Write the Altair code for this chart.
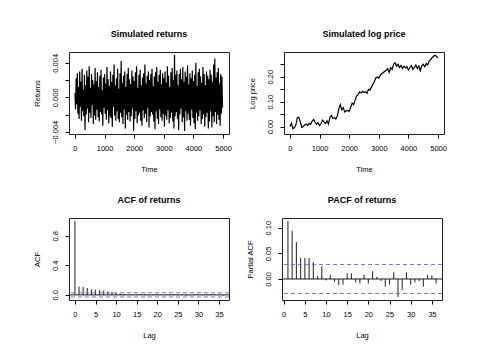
import altair as alt
import pandas as pd

FONT = "Liberation Sans"

# ---------------- data ----------------
# Simulated returns (units of 1e-4), one value every 20 time steps
ret_time = list(range(1, 5001, 20))
ret_e4 = [
    5, -14, 22, -8, 28, -19, 12, -25, 30, -11,
    18, -27, 33, -16, 9, -22, 26, -38, 14, -20,
    31, -13, 24, -29, 36, -18, 11, -24, 27, -9,
    20, -31, 15, -21, 34, -26, 19, -14, 29, -23,
    12, -28, 25, -17, 32, -20, 8, -33, 23, -12,
    27, -19, 16, -26, 35, -15, 21, -30, 13, -22,
    30, -24, 18, -34, 26, -11, 38, -21, 14, -27,
    22, -16, 33, -25, 10, -29, 28, -18, 42, -23,
    17, -31, 25, -14, 30, -36, 12, -20, 27, -26,
    34, -17, 21, -28, 15, -22, 31, -13, 24, -39,
    19, -25, 29, -16, 36, -30, 11, -21, 26, -18,
    32, -27, 14, -33, 23, -15, 28, -24, 38, -19,
    16, -29, 25, -12, 30, -35, 20, -22, 27, -17,
    33, -20, 13, -28, 24, -37, 29, -16, 35, -25,
    18, -31, 26, -14, 32, -23, 15, -27, 28, -19,
    22, -34, 30, -21, 17, -26, 36, -15, 25, -30,
    12, -24, 29, -18, 34, -28, 20, -36, 49, -22,
    26, -17, 31, -25, 14, -38, 27, -20, 33, -13,
    21, -29, 35, -23, 18, -39, 30, -16, 24, -27,
    37, -19, 15, -26, 28, -33, 22, -14, 31, -24,
    19, -30, 26, -37, 40, -18, 13, -27, 29, -22,
    33, -15, 24, -31, 17, -25, 35, -20, 27, -34,
    14, -23, 30, -18, 25, -36, 21, -28, 32, -16,
    26, -35, 18, -22, 38, -29, 45, -17, 23, -31,
    29, -20, 34, -26, 16, -33, 27, -19, 24, -12,
]

# Simulated log price
lp_time = list(range(0, 5001, 50))
lp_val = [
    0.000, 0.013, -0.009, -0.004, 0.006, 0.035, 0.037, 0.019, -0.004, 0.000,
    0.006, 0.010, 0.004, 0.013, 0.009, 0.022, 0.028, 0.017, 0.009, 0.015,
    0.004, 0.012, 0.026, 0.019, 0.012, 0.023, 0.010, 0.037, 0.045, 0.032,
    0.035, 0.030, 0.042, 0.071, 0.088, 0.067, 0.076, 0.058, 0.063, 0.065,
    0.060, 0.077, 0.094, 0.088, 0.106, 0.122, 0.128, 0.138, 0.135, 0.141,
    0.137, 0.140, 0.133, 0.149, 0.146, 0.158, 0.169, 0.181, 0.195, 0.199,
    0.194, 0.205, 0.212, 0.217, 0.222, 0.226, 0.232, 0.217, 0.236, 0.229,
    0.250, 0.256, 0.242, 0.250, 0.237, 0.245, 0.233, 0.242, 0.235, 0.241,
    0.226, 0.237, 0.245, 0.229, 0.237, 0.247, 0.233, 0.242, 0.224, 0.244,
    0.250, 0.240, 0.253, 0.247, 0.263, 0.269, 0.276, 0.282, 0.286, 0.281,
    0.276,
]

# ACF of returns
acf_lag = list(range(0, 37))
acf_val = [
    1.0, 0.113, 0.108, 0.095, 0.075, 0.070, 0.068, 0.060, 0.045, 0.038,
    0.025, 0.015, 0.012, 0.006, 0.004, 0.010, 0.008, 0.012, -0.008, 0.005,
    0.009, 0.004, -0.005, 0.006, 0.011, -0.009, 0.008, -0.012, -0.006, 0.007,
    0.004, -0.005, 0.008, 0.010, 0.009, 0.007, -0.008,
]

# PACF of returns
pacf_lag = list(range(1, 37))
pacf_val = [
    0.113, 0.094, 0.072, 0.041, 0.041, 0.041, 0.033, 0.006, 0.025, -0.003,
    0.008, -0.006, -0.012, -0.011, 0.011, 0.011, -0.007, -0.009, 0.008, -0.009,
    0.015, 0.004, -0.004, -0.015, -0.011, 0.013, -0.035, -0.021, 0.013, -0.011,
    -0.007, -0.004, -0.015, 0.009, 0.0075, -0.009,
]

ci_bounds = [0.0283, -0.0283]
zero_line = [0.0]

# ---------------- helpers ----------------
W, H = 160, 82
BLUE = "#6262f2"


def xaxis(values, title, fmt):
    return alt.Axis(values=values, title=title, domain=False, grid=False, format=fmt,
                    tickSize=4, tickColor="black", tickWidth=1,
                    labelFontSize=7.5, labelFont=FONT, labelColor="black",
                    labelPadding=6, labelFlush=False, labelOverlap=False,
                    titleFontSize=7.5, titleFont=FONT, titleColor="black",
                    titleFontWeight="normal", titlePadding=14)


def yaxis(values, title, expr):
    return alt.Axis(values=values, title=title, domain=False, grid=False,
                    tickSize=4, tickColor="black", tickWidth=1,
                    labelFontSize=7.5, labelFont=FONT, labelColor="black",
                    labelAngle=270, labelAlign="center", labelBaseline="bottom",
                    labelPadding=6, labelFlush=False, labelOverlap=False,
                    labelExpr=expr,
                    titleFontSize=7.5, titleFont=FONT, titleColor="black",
                    titleFontWeight="normal", titlePadding=10)


def ttl(text):
    return alt.TitleParams(text=text, fontSize=9, fontWeight="bold", font=FONT,
                           color="black", offset=13, anchor="middle")


# ---------------- panel 1: returns ----------------
df_ret = pd.DataFrame({"t": ret_time, "r": [v * 1e-4 for v in ret_e4]})
p1 = alt.Chart(df_ret).mark_line(color="black", strokeWidth=1.2).encode(
    x=alt.X("t:Q", scale=alt.Scale(domain=[-200, 5200], nice=False, zero=False),
            axis=xaxis([0, 1000, 2000, 3000, 4000, 5000], "Time", "d")),
    y=alt.Y("r:Q", scale=alt.Scale(domain=[-0.00425, 0.00525], nice=False, zero=False),
            axis=yaxis([-0.004, -0.002, 0, 0.002, 0.004], "Returns",
                       "(abs(datum.value) > 0.003 || datum.value == 0) ? format(datum.value, '.3f') : ''")),
).properties(width=W, height=H, title=ttl("Simulated returns"))

# ---------------- panel 2: log price ----------------
df_lp = pd.DataFrame({"t": lp_time, "p": lp_val})
p2 = alt.Chart(df_lp).mark_line(color="black", strokeWidth=1.2).encode(
    x=alt.X("t:Q", scale=alt.Scale(domain=[-200, 5200], nice=False, zero=False),
            axis=xaxis([0, 1000, 2000, 3000, 4000, 5000], "Time", "d")),
    y=alt.Y("p:Q", scale=alt.Scale(domain=[-0.030, 0.299], nice=False, zero=False),
            axis=yaxis([0, 0.05, 0.10, 0.15, 0.20, 0.25], "Log price",
                       "(round(datum.value * 100) % 10 == 0) ? format(datum.value, '.2f') : ''")),
).properties(width=W, height=H, title=ttl("Simulated log price"))

df_zero = pd.DataFrame({"y": zero_line})
df_ci = pd.DataFrame({"y": ci_bounds})


def ref_layers(yscale):
    z = alt.Chart(df_zero).mark_rule(color="black", strokeWidth=0.9).encode(
        y=alt.Y("y:Q", scale=yscale))
    c = alt.Chart(df_ci).mark_rule(color=BLUE, strokeWidth=0.9, strokeDash=[4, 3]).encode(
        y=alt.Y("y:Q", scale=yscale))
    return z, c


# ---------------- panel 3: ACF ----------------
df_acf = pd.DataFrame({"lag": acf_lag, "v": acf_val, "zero": [0.0] * len(acf_lag)})
acf_x = alt.Scale(domain=[-1.44, 37.44], nice=False, zero=False)
acf_y = alt.Scale(domain=[-0.069, 1.041], nice=False, zero=False)
acf_bars = alt.Chart(df_acf).mark_rule(color="#333333", strokeWidth=1.1).encode(
    x=alt.X("lag:Q", scale=acf_x,
            axis=xaxis([0, 5, 10, 15, 20, 25, 30, 35], "Lag", "d")),
    y=alt.Y("v:Q", scale=acf_y,
            axis=yaxis([0, 0.2, 0.4, 0.6, 0.8, 1.0], "ACF",
                       "(round(datum.value * 10) % 4 == 0) ? format(datum.value, '.1f') : ''")),
    y2="zero:Q",
)
z3, c3 = ref_layers(acf_y)
p3 = alt.layer(acf_bars, z3, c3).properties(
    width=W, height=H, title=ttl("ACF of returns"))

# ---------------- panel 4: PACF ----------------
df_pacf = pd.DataFrame({"lag": pacf_lag, "v": pacf_val, "zero": [0.0] * len(pacf_lag)})
pacf_x = alt.Scale(domain=[-0.4, 37.4], nice=False, zero=False)
pacf_y = alt.Scale(domain=[-0.041, 0.119], nice=False, zero=False)
pacf_bars = alt.Chart(df_pacf).mark_rule(color="#333333", strokeWidth=1.1).encode(
    x=alt.X("lag:Q", scale=pacf_x,
            axis=xaxis([0, 5, 10, 15, 20, 25, 30, 35], "Lag", "d")),
    y=alt.Y("v:Q", scale=pacf_y,
            axis=yaxis([0, 0.05, 0.10], "Partial ACF", "format(datum.value, '.2f')")),
    y2="zero:Q",
)
z4, c4 = ref_layers(pacf_y)
p4 = alt.layer(pacf_bars, z4, c4).properties(
    width=W, height=H, title=ttl("PACF of returns"))

chart = alt.vconcat(
    alt.hconcat(p1, p2, spacing=15),
    alt.hconcat(p3, p4, spacing=15),
    spacing=21,
).properties(
    padding={"left": 24, "top": 21, "right": 5, "bottom": 5},
    background="white",
).configure_view(stroke="#222222", strokeWidth=1)

chart.save("out.html", embed_options={"renderer": "svg", "actions": False})
